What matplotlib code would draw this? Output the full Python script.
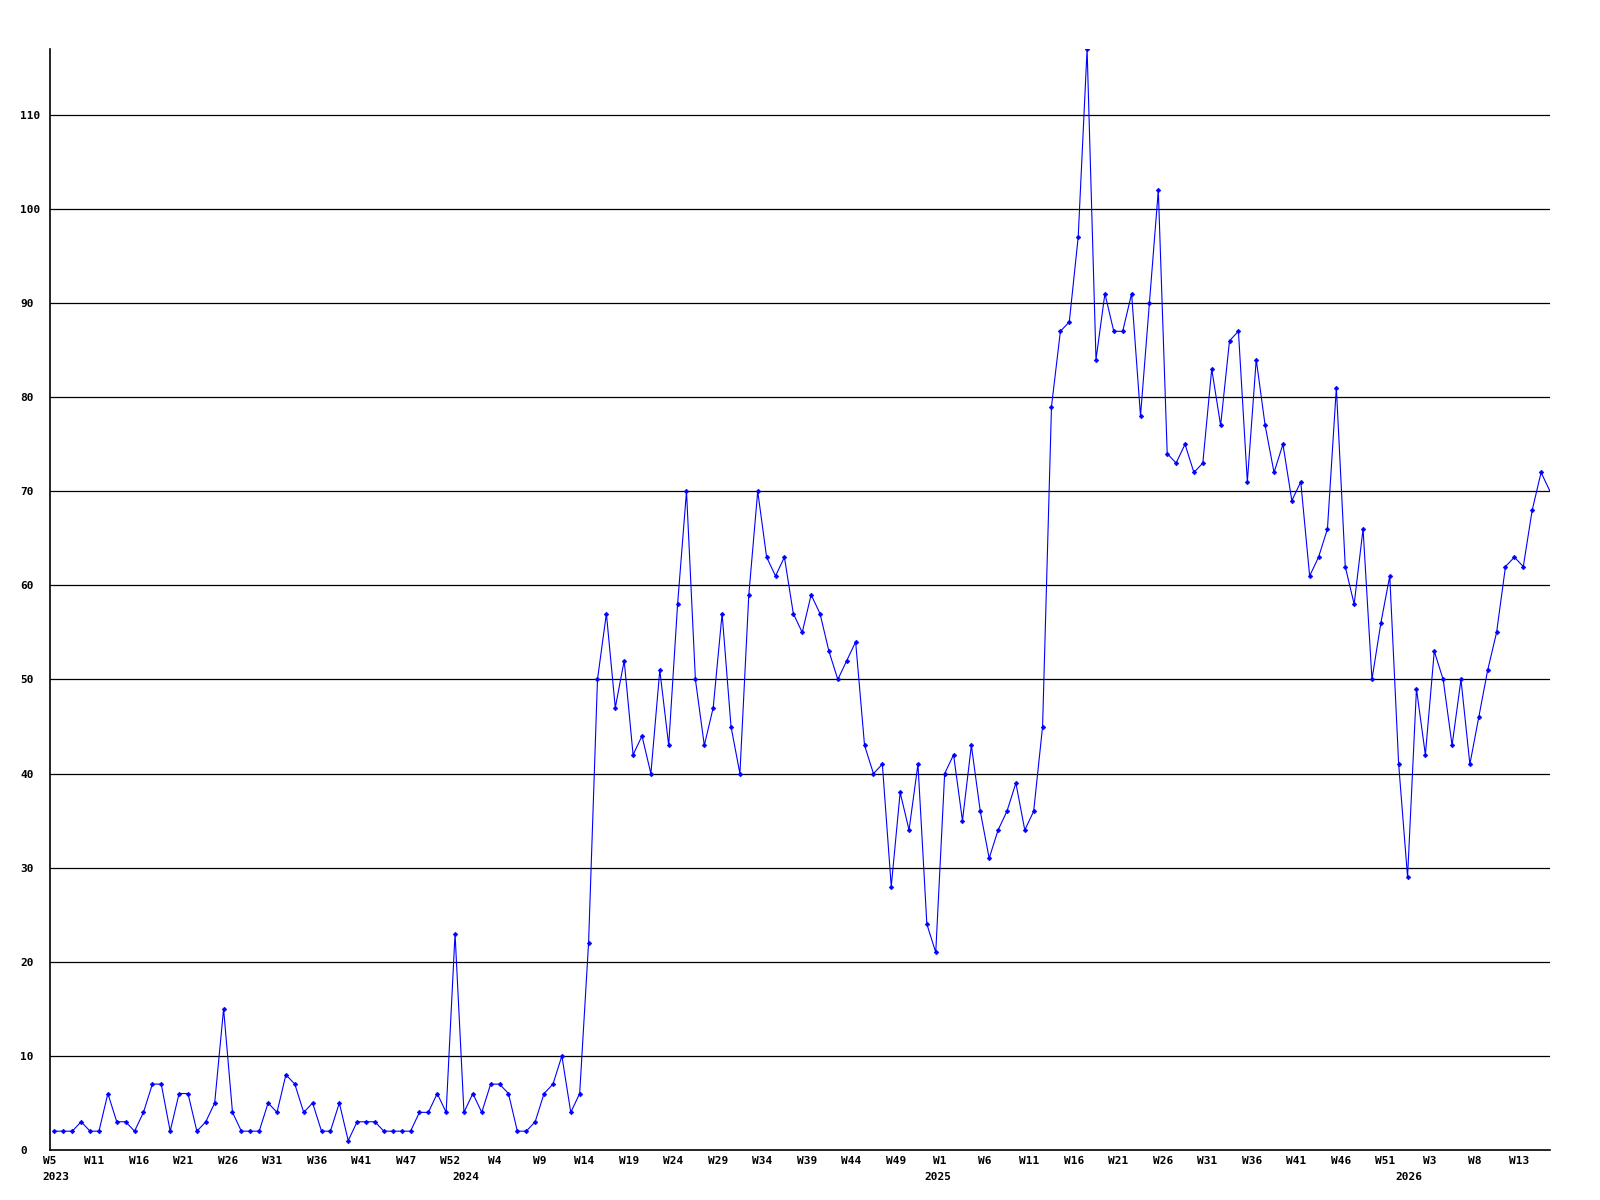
import numpy as np
import matplotlib
matplotlib.use('Agg')
import matplotlib.pyplot as plt
import matplotlib.transforms as mtransforms

# weekly counts, W5 2023 .. W16 2026
values = [2, 2, 2, 3, 2, 2, 6, 3, 3, 2, 4, 7, 7, 2, 6, 6, 2, 3, 5, 15,
          4, 2, 2, 2, 5, 4, 8, 7, 4, 5, 2, 2, 5, 1, 3, 3, 3, 2, 2, 2,
          2, 4, 4, 6, 4, 23,
          4, 6, 4, 7, 7, 6, 2, 2, 3, 6, 7, 10, 4, 6, 22,
          50, 57, 47, 52, 42, 44, 40, 51, 43, 58, 70, 50, 43, 47, 57, 45, 40,
          59, 70, 63, 61, 63, 57, 55, 59, 57, 53, 50, 52, 54, 43, 40, 41,
          28, 38, 34, 41, 24, 21, 40, 42, 35, 43, 36, 31, 34, 36, 39, 34, 36, 45,
          79, 87, 88, 97, 117, 84, 91, 87, 87, 91, 78, 90, 102, 74, 73, 75, 72,
          73, 83, 77,
          86, 87, 71, 84, 77, 72, 75, 69, 71, 61, 63, 66, 81, 62, 58, 66,
          50, 56, 61, 41, 29, 49, 42, 53, 50, 43, 50, 41, 46, 51, 55, 62, 63,
          62, 68, 72, 70]

week_labels = ['W5', 'W11', 'W16', 'W21', 'W26', 'W31', 'W36', 'W41', 'W47', 'W52',
               'W4', 'W9', 'W14', 'W19', 'W24', 'W29', 'W34', 'W39', 'W44', 'W49',
               'W1', 'W6', 'W11', 'W16', 'W21', 'W26', 'W31', 'W36', 'W41', 'W46',
               'W51', 'W3', 'W8', 'W13']
week_label_pos = list(range(0, 170, 5))[:len(week_labels)]

year_labels = ['2023', '2024', '2025', '2026']
year_label_pos = [1, 47, 100, 153]

y_ticks = [0, 10, 20, 30, 40, 50, 60, 70, 80, 90, 100, 110]

x = np.arange(len(values))
font = dict(family='DejaVu Sans Mono', weight='bold', size=8)

fig = plt.figure(figsize=(16, 12), dpi=100)
ax = fig.add_axes([50 / 1600, 50 / 1200, 1500 / 1600, 1101 / 1200])

for yv in y_ticks[1:]:
    ax.axhline(yv, color='black', lw=0.9, zorder=1)

ax.plot(x, values, color='#0000ff', lw=0.8, marker='D', ms=2.4, mew=0.4,
        markevery=list(range(len(values) - 1)), zorder=3)

ax.set_xlim(0, len(values) - 1)
ax.set_ylim(0, 117)

for s in ['top', 'right']:
    ax.spines[s].set_visible(False)
for s in ['left', 'bottom']:
    ax.spines[s].set_linewidth(1.2)

ax.set_yticks(y_ticks)
ax.set_yticklabels([str(v) for v in y_ticks], ha='left', **font)
ax.tick_params(axis='y', length=0, pad=21.6)

ax.set_xticks([p - 0.5 for p in week_label_pos])
ax.set_xticklabels(week_labels, **font)
ax.tick_params(axis='x', length=0, pad=4)

trans = mtransforms.blended_transform_factory(ax.transData, ax.transAxes)
for lab, p in zip(year_labels, year_label_pos):
    ax.text(p - 0.8, -0.0245, lab, transform=trans, ha='center', va='center',
            clip_on=False, **font)

fig.savefig('out.png', dpi=100)
